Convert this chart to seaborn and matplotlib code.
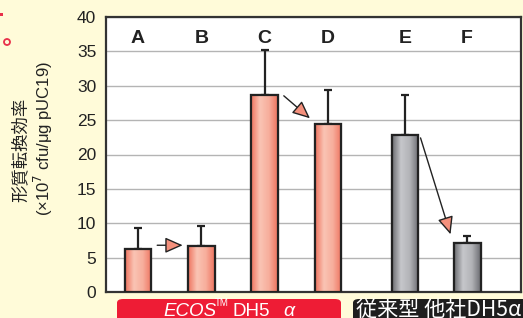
import numpy as np
import pandas as pd
import seaborn as sns
import matplotlib.pyplot as plt
from matplotlib.patches import FancyBboxPatch, Rectangle, Ellipse
from matplotlib.colors import LinearSegmentedColormap

# data
labels = ["A", "B", "C", "D", "E", "F"]
positions = [0, 1, 2, 3, 4.22, 5.2]
values = [6.2, 6.65, 28.65, 24.4, 22.9, 7.2]
errors = [3.15, 2.95, 6.55, 5.0, 5.7, 1.0]
groups = ["ecos", "ecos", "ecos", "ecos", "other", "other"]

df = pd.DataFrame({"pos": positions, "val": values, "grp": groups})

sns.set_theme(style="white")
plt.rcParams["font.family"] = ["Liberation Sans", "Noto Sans CJK JP", "DejaVu Sans"]

bg = "#fffbd9"
fig = plt.figure(figsize=(5.23, 3.18), dpi=100, facecolor=bg)
ax = fig.add_axes([106 / 523, 1 - 292 / 318, 415 / 523, 275 / 318])
ax.set_facecolor("white")

pal = {"ecos": "#f4907c", "other": "#a0a2a6"}
sns.barplot(data=df, x="pos", y="val", hue="grp", palette=pal, native_scale=True,
            width=0.43, legend=False, edgecolor="#222222", linewidth=1.5,
            errorbar=None, ax=ax, zorder=3)

# gradient fills on the bars
cmaps = {
    "ecos": LinearSegmentedColormap.from_list("s", ["#ee7460", "#fac4b4", "#f7ae9c", "#ee7460"]),
    "other": LinearSegmentedColormap.from_list("g", ["#6c6d72", "#c6c7cb", "#b2b3b7", "#6c6d72"]),
}
grad = np.linspace(0, 1, 64).reshape(1, -1)
for p, g in zip(ax.patches, groups):
    x0, y0 = p.get_x(), p.get_y()
    w, h = p.get_width(), p.get_height()
    im = ax.imshow(grad, cmap=cmaps[g], aspect="auto", extent=[x0, x0 + w, y0, y0 + h],
                   zorder=3.1)
    im.set_clip_path(p)
    ax.add_patch(Rectangle((x0, y0), w, h, fill=False, edgecolor="#222222",
                           linewidth=1.6, zorder=3.2))

ax.errorbar(positions, values, yerr=[np.zeros(len(errors)), errors], fmt="none",
            ecolor="#222222", elinewidth=1.6, capsize=3, capthick=1.6, zorder=2.5)

# arrows between bars
arrow_kw = dict(arrowstyle="-|>,head_length=0.9,head_width=0.4", color="#222222",
                lw=1.0, mutation_scale=12)
for (xa, ya), (xb, yb) in [((0.26, 6.8), (0.75, 6.8)),
                           ((2.27, 28.8), (2.75, 25.0)),
                           ((4.45, 22.8), (4.95, 8.0))]:
    a = ax.annotate("", xy=(xb, yb), xytext=(xa, ya),
                    arrowprops=dict(**arrow_kw), zorder=4)
    a.arrow_patch.set_facecolor("#f4907c")

for x, lab in zip(positions, labels):
    ax.text(x, 36.9, lab, ha="center", va="center", fontsize=14, fontweight="bold",
            color="#222222")

ax.set_xlim(-0.505, 6.05)
ax.set_ylim(0, 40)
ax.set_yticks(range(0, 41, 5))
ax.set_xticks([])
ax.set_xlabel("")
ax.set_ylabel("")
ax.yaxis.grid(True, color="#b4b4b4", linewidth=1)
ax.set_axisbelow(True)
ax.tick_params(axis="y", labelsize=12.5, colors="#222222", length=0, pad=7)
for s in ax.spines.values():
    s.set_color("#333333")
    s.set_linewidth(1.6)

fig.text(21 / 523, 1 - 150 / 318, "形質転換効率", rotation=90, ha="center", va="center",
         fontsize=12.5, color="#222222", family=["Noto Sans CJK JP"])
fig.text(43 / 523, 1 - 139 / 318, "(×10$^{7}$ cfu/μg pUC19)", rotation=90, ha="center",
         va="center", fontsize=12, color="#222222")

# bottom group labels
fig.patches.append(FancyBboxPatch((117 / 523, 1 - 330 / 318), 224 / 523, 31 / 318,
                                  boxstyle="round,pad=0,rounding_size=0.012",
                                  transform=fig.transFigure, facecolor="#ee1c35",
                                  edgecolor="none"))
fig.patches.append(FancyBboxPatch((353 / 523, 1 - 330 / 318), 180 / 523, 31 / 318,
                                  boxstyle="round,pad=0,rounding_size=0.012",
                                  transform=fig.transFigure, facecolor="#1e1e1e",
                                  edgecolor="none"))
ty = 1 - 311 / 318
fig.text(163 / 523, ty, "ECOS", ha="left", va="center", fontsize=13.5, color="white",
         style="italic")
fig.text(215 / 523, 1 - 303 / 318, "TM", ha="left", va="center", fontsize=7, color="white")
fig.text(232 / 523, ty, "DH5", ha="left", va="center", fontsize=13.5, color="white")
fig.text(283 / 523, ty, "α", ha="left", va="center", fontsize=14, color="white",
         style="italic")
fig.text(356 / 523, ty, "従来型 他社DH5α", ha="left", va="center",
         fontsize=15.2, color="white", family=["Noto Sans CJK JP"])

# cropped marks at the left edge
fig.patches.append(Ellipse((7 / 523, 1 - 42 / 318), 6 / 523, 6 / 318, transform=fig.transFigure,
                           facecolor="none", edgecolor="#e8304a", linewidth=1.3))
fig.patches.append(Rectangle((0, 1 - 16 / 318), 3 / 523, 3 / 318, transform=fig.transFigure,
                             facecolor="#e8304a", edgecolor="none"))

fig.savefig("out.png", dpi=100, facecolor=bg)
